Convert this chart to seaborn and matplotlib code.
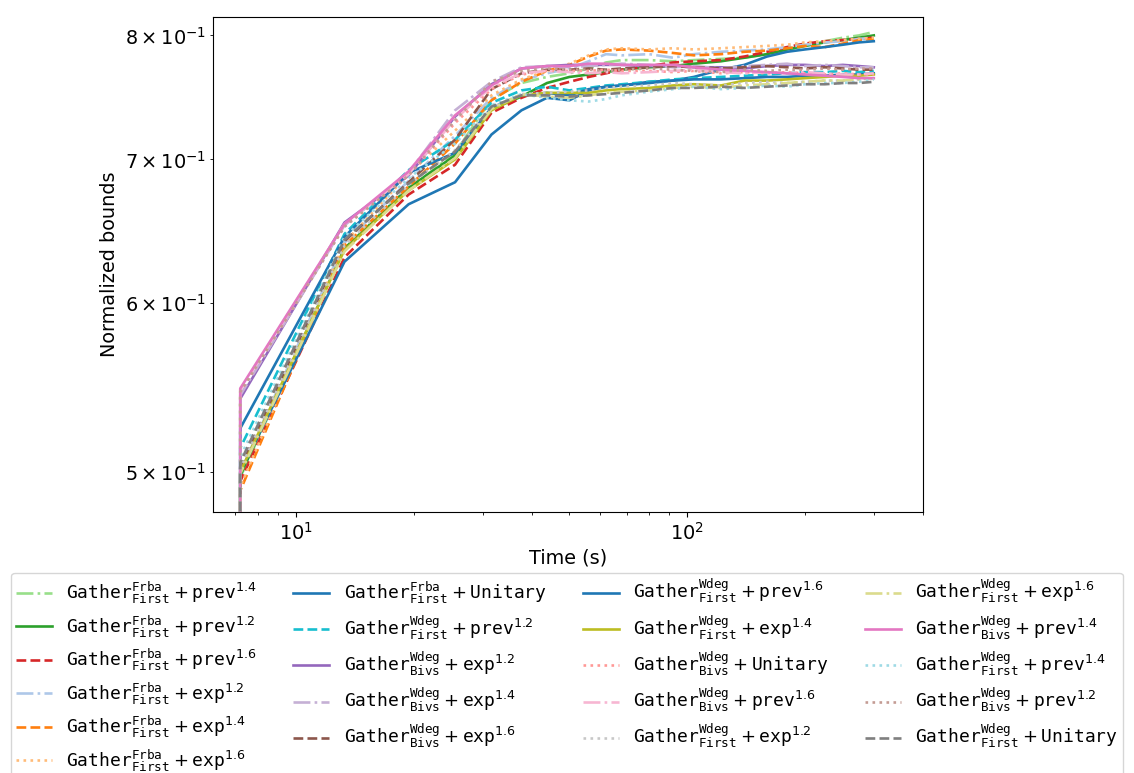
import seaborn as sns
import matplotlib.pyplot as plt

plt.rcParams['font.size'] = 13.9

# time samples (s); first sample repeated: bound is still below range at start
times = [7.2, 7.2, 13.3, 19.4, 25.5, 31.6, 37.7, 43.8, 50, 56, 62, 68, 80, 92,
         104, 122, 140, 160, 180, 200, 225, 250, 275, 300]

frba_prev14 = [0.40, 0.497, 0.635, 0.678, 0.705, 0.747, 0.760, 0.765, 0.768, 0.772, 0.777, 0.779,
               0.779, 0.778, 0.779, 0.780, 0.781, 0.784, 0.787, 0.791, 0.795, 0.798, 0.800, 0.803]
frba_prev12 = [0.40, 0.498, 0.636, 0.679, 0.703, 0.739, 0.749, 0.760, 0.765, 0.767, 0.769, 0.771,
               0.773, 0.774, 0.776, 0.778, 0.781, 0.784, 0.788, 0.791, 0.794, 0.796, 0.798, 0.800]
frba_prev16 = [0.40, 0.495, 0.630, 0.674, 0.696, 0.736, 0.748, 0.756, 0.761, 0.765, 0.768, 0.771,
               0.774, 0.777, 0.778, 0.779, 0.782, 0.786, 0.790, 0.793, 0.795, 0.796, 0.797, 0.798]
frba_exp12 = [0.40, 0.500, 0.640, 0.684, 0.718, 0.748, 0.762, 0.768, 0.772, 0.778, 0.784, 0.783,
              0.784, 0.781, 0.784, 0.786, 0.787, 0.788, 0.790, 0.792, 0.794, 0.795, 0.797, 0.798]
frba_exp14 = [0.40, 0.490, 0.638, 0.680, 0.712, 0.746, 0.761, 0.770, 0.775, 0.782, 0.787, 0.788,
              0.787, 0.785, 0.783, 0.784, 0.786, 0.787, 0.789, 0.791, 0.790, 0.793, 0.796, 0.797]
frba_exp16 = [0.40, 0.492, 0.640, 0.689, 0.722, 0.750, 0.763, 0.770, 0.776, 0.783, 0.788, 0.789,
              0.788, 0.789, 0.788, 0.789, 0.790, 0.791, 0.792, 0.794, 0.795, 0.796, 0.797, 0.798]
frba_unit = [0.40, 0.500, 0.627, 0.667, 0.683, 0.719, 0.738, 0.748, 0.746, 0.754, 0.757, 0.758,
             0.761, 0.762, 0.765, 0.771, 0.775, 0.782, 0.786, 0.788, 0.790, 0.792, 0.794, 0.795]
first_prev12 = [0.40, 0.513, 0.646, 0.692, 0.715, 0.744, 0.754, 0.757, 0.754, 0.756, 0.758, 0.759,
                0.761, 0.763, 0.764, 0.765, 0.766, 0.767, 0.768, 0.769, 0.769, 0.770, 0.769, 0.770]
bivs_exp12 = [0.40, 0.541, 0.654, 0.688, 0.733, 0.759, 0.772, 0.774, 0.775, 0.775, 0.775, 0.775,
              0.774, 0.774, 0.773, 0.773, 0.772, 0.774, 0.775, 0.775, 0.774, 0.775, 0.774, 0.773]
bivs_exp14 = [0.40, 0.543, 0.652, 0.690, 0.738, 0.761, 0.773, 0.774, 0.773, 0.774, 0.775, 0.776,
              0.775, 0.773, 0.774, 0.772, 0.774, 0.775, 0.776, 0.774, 0.775, 0.774, 0.773, 0.773]
bivs_exp16 = [0.40, 0.502, 0.641, 0.683, 0.715, 0.755, 0.768, 0.771, 0.771, 0.772, 0.771, 0.772,
              0.773, 0.774, 0.773, 0.772, 0.773, 0.774, 0.773, 0.772, 0.773, 0.772, 0.771, 0.771]
first_prev16 = [0.40, 0.524, 0.644, 0.690, 0.705, 0.740, 0.750, 0.752, 0.750, 0.755, 0.757, 0.758,
                0.760, 0.762, 0.763, 0.763, 0.764, 0.765, 0.765, 0.766, 0.766, 0.767, 0.767, 0.768]
first_exp14 = [0.40, 0.500, 0.635, 0.677, 0.700, 0.738, 0.750, 0.752, 0.752, 0.752, 0.754, 0.755,
               0.756, 0.758, 0.759, 0.758, 0.762, 0.762, 0.763, 0.764, 0.765, 0.766, 0.766, 0.767]
bivs_unit = [0.40, 0.545, 0.652, 0.688, 0.728, 0.755, 0.767, 0.770, 0.770, 0.770, 0.771, 0.770,
             0.770, 0.769, 0.770, 0.768, 0.769, 0.768, 0.769, 0.768, 0.767, 0.768, 0.767, 0.767]
bivs_prev16 = [0.40, 0.546, 0.653, 0.689, 0.731, 0.757, 0.768, 0.770, 0.769, 0.768, 0.769, 0.768,
               0.769, 0.770, 0.771, 0.769, 0.768, 0.769, 0.768, 0.769, 0.768, 0.767, 0.767, 0.768]
first_exp12 = [0.40, 0.502, 0.638, 0.681, 0.707, 0.740, 0.751, 0.752, 0.753, 0.754, 0.756, 0.757,
               0.758, 0.760, 0.759, 0.758, 0.760, 0.761, 0.760, 0.761, 0.762, 0.762, 0.763, 0.764]
first_exp16 = [0.40, 0.499, 0.634, 0.677, 0.701, 0.739, 0.751, 0.749, 0.748, 0.750, 0.752, 0.753,
               0.754, 0.756, 0.757, 0.756, 0.758, 0.759, 0.760, 0.761, 0.762, 0.762, 0.763, 0.764]
bivs_prev14 = [0.40, 0.547, 0.653, 0.691, 0.734, 0.758, 0.772, 0.774, 0.774, 0.776, 0.776, 0.775,
               0.775, 0.775, 0.773, 0.771, 0.770, 0.769, 0.768, 0.767, 0.766, 0.765, 0.764, 0.764]
first_prev14 = [0.40, 0.508, 0.644, 0.686, 0.712, 0.742, 0.751, 0.748, 0.746, 0.745, 0.747, 0.750,
                0.753, 0.755, 0.757, 0.755, 0.756, 0.758, 0.757, 0.759, 0.760, 0.760, 0.761, 0.763]
bivs_prev12 = [0.40, 0.545, 0.651, 0.688, 0.730, 0.761, 0.770, 0.772, 0.771, 0.771, 0.770, 0.771,
               0.772, 0.771, 0.770, 0.769, 0.771, 0.770, 0.771, 0.771, 0.772, 0.771, 0.772, 0.772]
first_unit = [0.40, 0.505, 0.642, 0.682, 0.706, 0.741, 0.750, 0.750, 0.749, 0.750, 0.751, 0.752,
              0.754, 0.756, 0.756, 0.757, 0.756, 0.757, 0.758, 0.759, 0.759, 0.760, 0.760, 0.761]


def lab(heur, sub, pol, exp=None):
    s = r"$\mathtt{Gather}^{\mathtt{%s}}_{\mathtt{%s}} + \mathtt{%s}" % (heur, sub, pol)
    if exp:
        s += "^{%s}" % exp
    return s + "$"


series = [
    (lab("Frba", "First", "prev", "1.4"), frba_prev14, "#98df8a", "-."),
    (lab("Frba", "First", "prev", "1.2"), frba_prev12, "#2ca02c", "-"),
    (lab("Frba", "First", "prev", "1.6"), frba_prev16, "#d62728", "--"),
    (lab("Frba", "First", "exp", "1.2"), frba_exp12, "#aec7e8", "-."),
    (lab("Frba", "First", "exp", "1.4"), frba_exp14, "#ff7f0e", "--"),
    (lab("Frba", "First", "exp", "1.6"), frba_exp16, "#ffbb78", ":"),
    (lab("Frba", "First", "Unitary"), frba_unit, "#1f77b4", "-"),
    (lab("Wdeg", "First", "prev", "1.2"), first_prev12, "#17becf", "--"),
    (lab("Wdeg", "Bivs", "exp", "1.2"), bivs_exp12, "#9467bd", "-"),
    (lab("Wdeg", "Bivs", "exp", "1.4"), bivs_exp14, "#c5b0d5", "-."),
    (lab("Wdeg", "Bivs", "exp", "1.6"), bivs_exp16, "#8c564b", "--"),
    (lab("Wdeg", "First", "prev", "1.6"), first_prev16, "#1f77b4", "-"),
    (lab("Wdeg", "First", "exp", "1.4"), first_exp14, "#bcbd22", "-"),
    (lab("Wdeg", "Bivs", "Unitary"), bivs_unit, "#ff9896", ":"),
    (lab("Wdeg", "Bivs", "prev", "1.6"), bivs_prev16, "#f7b6d2", "-."),
    (lab("Wdeg", "First", "exp", "1.2"), first_exp12, "#c7c7c7", ":"),
    (lab("Wdeg", "First", "exp", "1.6"), first_exp16, "#dbdb8d", "-."),
    (lab("Wdeg", "Bivs", "prev", "1.4"), bivs_prev14, "#e377c2", "-"),
    (lab("Wdeg", "First", "prev", "1.4"), first_prev14, "#9edae5", ":"),
    (lab("Wdeg", "Bivs", "prev", "1.2"), bivs_prev12, "#c49c94", ":"),
    (lab("Wdeg", "First", "Unitary"), first_unit, "#7f7f7f", "--"),
]

fig = plt.figure(figsize=(11.34, 7.73), dpi=100)
ax = fig.add_axes([0.188, 0.338, 0.626, 0.640])

for name, vals, col, ls in series:
    sns.lineplot(x=times, y=vals, ax=ax, color=col, linestyle=ls, linewidth=1.9,
                 label=name, estimator=None, sort=False)

ax.set_xscale("log")
ax.set_yscale("log")
ax.set_xlim(6.14, 401)
ax.set_ylim(0.479, 0.816)
ax.set_xlabel("Time (s)")
ax.set_ylabel("Normalized bounds")

ax.legend(ncol=4, loc="upper center", bbox_to_anchor=(0.5, 0.259),
          bbox_transform=fig.transFigure, borderaxespad=0, fontsize=13.0,
          labelspacing=0.4, borderpad=0.25)

plt.savefig("out.png")
plt.close()
